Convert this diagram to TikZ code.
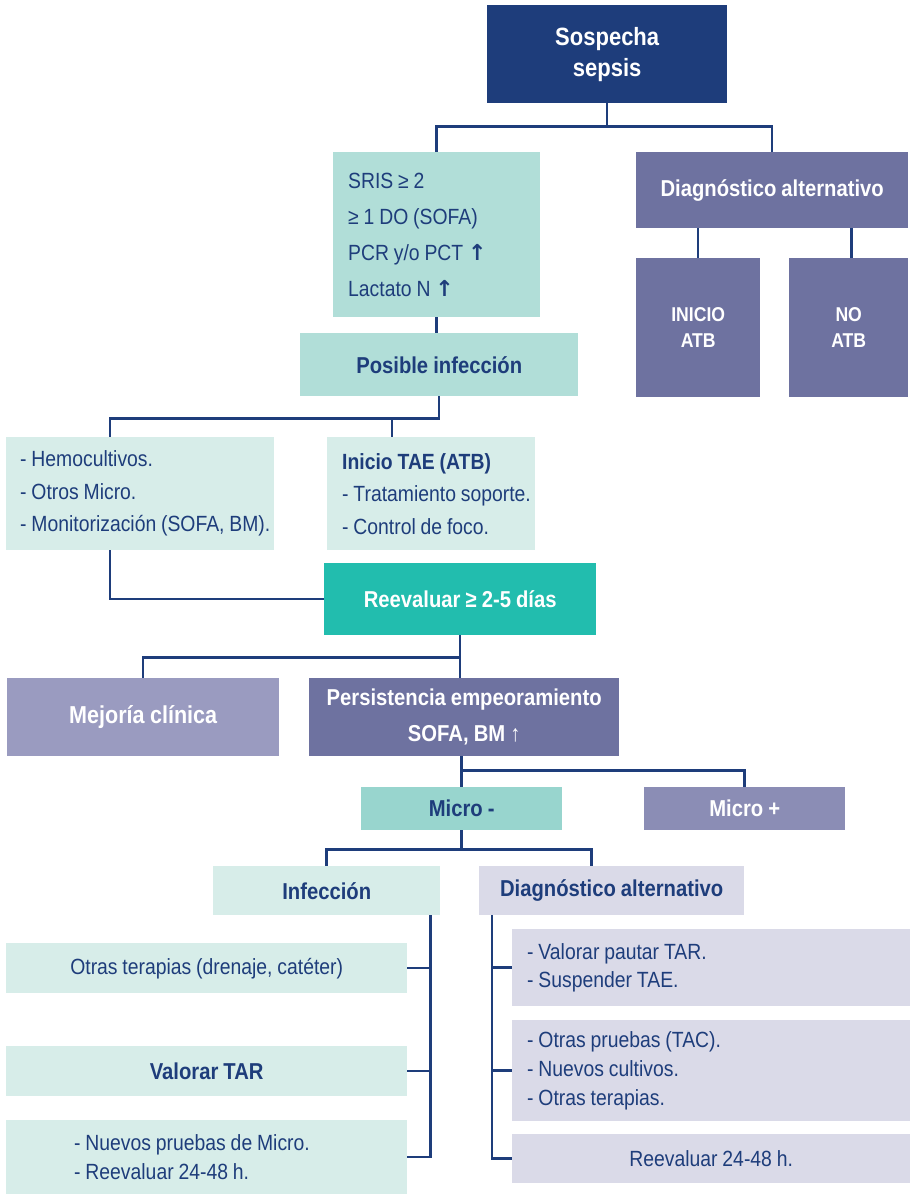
\documentclass[tikz,border=0pt]{standalone}
\usepackage{fontspec}
\setmainfont[FakeStretch=0.88, WordSpace=0.9, BoldFeatures={FakeStretch=0.88}]{Liberation Sans}
\newfontfamily\arrowfont{DejaVu Sans}
\definecolor{navy}{HTML}{1E3D7B}
\definecolor{tealA}{HTML}{B1DED8}
\definecolor{tealB}{HTML}{22BDAE}
\definecolor{tealC}{HTML}{D7EDE9}
\definecolor{tealD}{HTML}{98D5CE}
\definecolor{purple}{HTML}{6E72A0}
\definecolor{lavA}{HTML}{9A9BC0}
\definecolor{lavB}{HTML}{8B8DB5}
\definecolor{lavC}{HTML}{DADAE8}
\begin{document}
\begin{tikzpicture}[x=1pt,y=-1pt,
  box/.style={anchor=north west, inner sep=0pt, align=center, text=navy, font=\fontsize{22}{30}\selectfont},
  head/.style={box, font=\fontsize{23}{31}\selectfont\bfseries},
  list/.style={box, align=flush left, inner xsep=15pt},
  link/.style={draw=navy, line width=2.5pt}]
\useasboundingbox (0,0) rectangle (910,1194);

\node[head, fill=navy, text=white, minimum width=240, minimum height=98, font=\fontsize{25}{31}\selectfont\bfseries] (sospecha) at (487,5) {Sospecha\\sepsis};
\node[list, fill=tealA, text width=177, minimum height=165, font=\fontsize{22}{36}\selectfont] (sris) at (333,152) {SRIS ≥ 2\\≥ 1 DO (SOFA)\\PCR y/o PCT {\arrowfont\bfseries ↑}\\Lactato N {\arrowfont\bfseries ↑}};
\node[head, fill=purple, text=white, minimum width=272, minimum height=76] (diagalt) at (636,152) {Diagnóstico alternativo};
\node[head, fill=purple, text=white, minimum width=124, minimum height=139, font=\fontsize{20}{26}\selectfont\bfseries] (inicioatb) at (636,258) {INICIO\\ATB};
\node[head, fill=purple, text=white, minimum width=119, minimum height=139, font=\fontsize{20}{26}\selectfont\bfseries] (noatb) at (789,258) {NO\\ATB};
\node[head, fill=tealA, minimum width=278, minimum height=63] (posible) at (300,333) {Posible infección};
\node[list, fill=tealC, inner xsep=14pt, text width=240, minimum height=113, font=\fontsize{22}{32.5}\selectfont] (hemo) at (6,437) {- Hemocultivos.\\- Otros Micro.\\\mbox{- Monitorización (SOFA, BM).}};
\node[list, fill=tealC, text width=178, minimum height=113, font=\fontsize{22}{32.5}\selectfont] (iniciotae) at (327,437) {\textbf{Inicio TAE (ATB)}\\\mbox{- Tratamiento soporte.}\\- Control de foco.};
\node[head, fill=tealB, text=white, minimum width=272, minimum height=72] (reeval) at (324,563) {Reevaluar ≥ 2-5 días};
\node[head, fill=lavA, text=white, minimum width=272, minimum height=78, font=\fontsize{24.5}{31}\selectfont\bfseries] (mejoria) at (7,678) {Mejoría clínica};
\node[head, fill=purple, text=white, minimum width=310, minimum height=78, font=\fontsize{23}{36}\selectfont\bfseries] (persist) at (309,678) {Persistencia empeoramiento\\SOFA, BM ↑};
\node[head, fill=tealD, minimum width=201, minimum height=43] (microneg) at (361,787) {Micro -};
\node[head, fill=lavB, text=white, minimum width=201, minimum height=43] (micropos) at (644,787) {Micro +};
\node[head, fill=tealC, minimum width=227, minimum height=49] (infeccion) at (213,866) {Infección};
\node[head, fill=lavC, minimum width=265, minimum height=49] (diagalt2) at (479,866) {Diagnóstico alternativo};
\node[box, fill=tealC, minimum width=401, minimum height=50] (otrasterap) at (6,943) {Otras terapias (drenaje, catéter)};
\node[head, fill=tealC, minimum width=401, minimum height=50] (valorartar) at (6,1046) {Valorar TAR};
\node[list, fill=tealC, inner xsep=68pt, text width=265, minimum height=74, font=\fontsize{22}{29}\selectfont] (nuevospru) at (6,1120) {- Nuevos pruebas de Micro.\\- Reevaluar 24-48 h.};
\node[list, fill=lavC, text width=368, minimum height=77, font=\fontsize{22}{28}\selectfont] (valorpautar) at (512,929) {- Valorar pautar TAR.\\- Suspender TAE.};
\node[list, fill=lavC, text width=368, minimum height=101, font=\fontsize{22}{29}\selectfont] (otraspru) at (512,1020) {- Otras pruebas (TAC).\\- Nuevos cultivos.\\- Otras terapias.};
\node[box, fill=lavC, minimum width=398, minimum height=49] (reeval2) at (512,1134) {Reevaluar 24-48 h.};

\draw[link] (sospecha.south) -- ++(0,23) -| (sris.north);
\draw[link] (sospecha.south) -- ++(0,23) -| (diagalt.north);
\draw[link] (inicioatb.north |- diagalt.south) -- (inicioatb.north);
\draw[link] ([xshift=3pt]noatb.north |- diagalt.south) -- ([xshift=3pt]noatb.north);
\draw[link] (sris.south) -- (sris.south |- posible.north);
\draw[link] (posible.south) -- ++(0,22) -| ([xshift=-30pt]hemo.north);
\draw[link] (posible.south) -- ++(0,22) -| ([xshift=-39pt]iniciotae.north);
\draw[link] ([xshift=-30pt]hemo.south) |- (reeval.west);
\draw[link] (reeval.south) -- ++(0,22) -| (mejoria.north);
\draw[link] (reeval.south) -- (reeval.south |- persist.north);
\draw[link] (microneg.north |- persist.south) -- (microneg.north);
\draw[link] (microneg.north |- persist.south) ++(0,14) -| (micropos.north);
\draw[link] (microneg.south) -- ++(0,19) -| (infeccion.north);
\draw[link] (microneg.south) -- ++(0,19) -| ([xshift=-20pt]diagalt2.north);
\foreach \n in {otrasterap, valorartar, nuevospru}
  \draw[link] ([xshift=-10pt]infeccion.south east) |- (\n.east);
\foreach \n in {valorpautar, otraspru, reeval2}
  \draw[link] ([xshift=13pt]diagalt2.south west) |- (\n.west);
\end{tikzpicture}
\end{document}
